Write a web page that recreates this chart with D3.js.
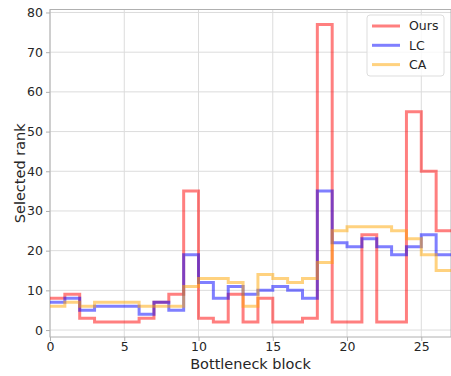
<!DOCTYPE html>
<html>
<head>
<meta charset="utf-8">
<script src="https://cdn.jsdelivr.net/npm/d3@7"></script>
<style>
  body { margin: 0; background: #fff; }
  .canvas svg { display: block; font-family: "DejaVu Sans", sans-serif; }
</style>
</head>
<body>
<div class="canvas"></div>
<script>
// data: selected rank per bottleneck block (0..26)
const blocks = d3.range(0, 27);
const ours = [8, 9, 3, 2, 2, 2, 3, 7, 9, 35, 3, 2, 9, 2, 8, 2, 2, 3, 77, 2, 2, 24, 2, 2, 55, 40, 25];
const lc   = [7, 8, 5, 6, 6, 6, 4, 7, 5, 19, 12, 8, 11, 9, 10, 11, 10, 8, 35, 22, 21, 23, 21, 19, 21, 24, 19];
const ca   = [6, 7, 6, 7, 7, 7, 6, 6, 6, 11, 13, 13, 12, 6, 14, 13, 12, 13, 17, 25, 26, 26, 26, 25, 23, 19, 15];
const xTicks = [0, 5, 10, 15, 20, 25];
const yTicks = [0, 10, 20, 30, 40, 50, 60, 70, 80];

const series = [
  {name: 'Ours', values: ours, color: 'red'},
  {name: 'LC', values: lc, color: 'blue'},
  {name: 'CA', values: ca, color: 'orange'}
];

// svg container
const svg = d3.select('.canvas')
  .append('svg')
    .attr('width', 451)
    .attr('height', 376);

// margins & dimensions
const margin = {top: 9.5, right: 0, bottom: 39, left: 50};
const graphWidth = 451 - margin.left - margin.right;
const graphHeight = 376 - margin.top - margin.bottom;

const graph = svg.append('g')
  .attr('transform', `translate(${margin.left}, ${margin.top})`);

// scales
const x = d3.scaleLinear()
  .domain([0, 27])
  .range([0, graphWidth]);

const y = d3.scaleLinear()
  .domain([-1.75, 80.75])
  .range([graphHeight, 0]);

// grid
graph.append('g')
  .selectAll('line')
  .data(xTicks)
  .enter().append('line')
    .attr('x1', d => x(d)).attr('x2', d => x(d))
    .attr('y1', 0).attr('y2', graphHeight)
    .attr('stroke', '#dcdcdc').attr('stroke-width', 1);

graph.append('g')
  .selectAll('line')
  .data(yTicks)
  .enter().append('line')
    .attr('x1', 0).attr('x2', graphWidth)
    .attr('y1', d => y(d)).attr('y2', d => y(d))
    .attr('stroke', '#dcdcdc').attr('stroke-width', 1);

// axes
const xAxisGroup = graph.append('g')
  .attr('transform', `translate(0, ${graphHeight})`);
const yAxisGroup = graph.append('g');

const xAxis = d3.axisBottom(x).tickValues(xTicks).tickSize(4).tickPadding(1);
const yAxis = d3.axisLeft(y).tickValues(yTicks).tickSize(4).tickPadding(3);

xAxisGroup.call(xAxis);
yAxisGroup.call(yAxis);

[xAxisGroup, yAxisGroup].forEach(g => {
  g.select('.domain').remove();
  g.selectAll('line').attr('stroke', '#b0b0b0');
  g.selectAll('text')
    .attr('fill', '#262626')
    .attr('font-size', 12.5)
    .attr('font-family', '"DejaVu Sans", sans-serif');
});

// frame
graph.append('rect')
  .attr('x', 0).attr('y', 0)
  .attr('width', graphWidth).attr('height', graphHeight)
  .attr('fill', 'none')
  .attr('stroke', '#b0b0b0')
  .attr('stroke-width', 1);

// step lines
const line = d3.line()
  .x(d => x(d[0]))
  .y(d => y(d[1]))
  .curve(d3.curveStepAfter);

svg.append('clipPath').attr('id', 'clip')
  .append('rect').attr('width', graphWidth).attr('height', graphHeight);

graph.append('g')
  .attr('clip-path', 'url(#clip)')
  .selectAll('path')
  .data(series)
  .enter().append('path')
    .attr('d', s => {
      const pts = blocks.map(i => [i, s.values[i]]);
      pts.push([blocks.length, s.values[s.values.length - 1]]);
      return line(pts);
    })
    .attr('fill', 'none')
    .attr('stroke', s => s.color)
    .attr('stroke-opacity', 0.5)
    .attr('stroke-width', 3)
    .attr('stroke-linejoin', 'miter');

// axis labels
svg.append('text')
  .attr('x', margin.left + graphWidth / 2)
  .attr('y', 368.5)
  .attr('text-anchor', 'middle')
  .attr('font-size', 14.5)
  .attr('fill', '#262626')
  .text('Bottleneck block');

svg.append('text')
  .attr('transform', `translate(25, ${margin.top + graphHeight / 2}) rotate(-90)`)
  .attr('text-anchor', 'middle')
  .attr('font-size', 14.5)
  .attr('fill', '#262626')
  .text('Selected rank');

// legend
const legend = svg.append('g').attr('transform', 'translate(367, 15)');
legend.append('rect')
  .attr('width', 77).attr('height', 61)
  .attr('rx', 3)
  .attr('fill', 'rgba(255,255,255,0.8)')
  .attr('stroke', '#dddddd');

const items = legend.selectAll('g.item')
  .data(series)
  .enter().append('g')
    .attr('transform', (d, i) => `translate(5, ${11 + i * 19.3})`);

items.append('line')
  .attr('x1', 0).attr('x2', 28)
  .attr('stroke', d => d.color)
  .attr('stroke-opacity', 0.5)
  .attr('stroke-width', 3);

items.append('text')
  .attr('x', 37)
  .attr('dy', '0.35em')
  .attr('font-size', 12.5)
  .attr('fill', '#262626')
  .text(d => d.name);
</script>
</body>
</html>
